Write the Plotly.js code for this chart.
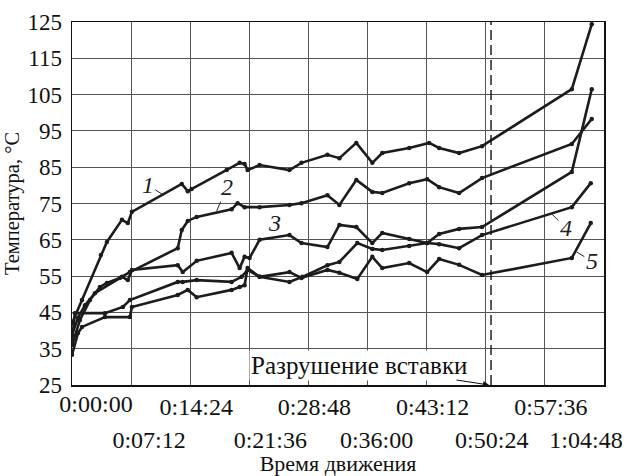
<!DOCTYPE html>
<html><head><meta charset="utf-8">
<script src="https://cdn.plot.ly/plotly-3.0.1.min.js"></script>
<style>html,body{margin:0;padding:0;background:#fff}</style>
</head><body><div id="chart" style="width:624px;height:476px"></div>
<script>
// time in minutes, temperature in °C
const t1=[0,1.22,3.52,4.25,6.08,6.80,7.29,13.37,14.10,14.58,18.84,20.42,21.02,21.39,22.85,26.49,27.95,31.11,32.57,34.63,36.58,37.79,41.07,43.50,44.72,47.15,49.94,60.88,63.31];
const T1=[42,48.4,60.8,64.4,70.5,69.6,72.7,80.4,78.4,79,84.2,86.2,85.9,84.2,85.6,84.2,86.2,88.4,87.5,91.7,86.2,88.9,90.3,91.7,90.3,88.9,90.8,106.5,124.4];
const t2=[0,0.97,2.19,3.40,4.25,5.83,7.05,12.88,13.37,14.10,15.19,19.44,20.17,21.02,22.85,26.49,27.95,31.11,32.57,34.63,36.58,37.79,41.07,43.26,44.72,47.15,49.94,60.88,63.31];
const T2=[36,42.9,48.4,52,53.1,54.5,56.1,62.7,67.7,70.2,71.3,73.4,75.1,74,74,74.6,75.1,77.3,74.6,81.5,78.2,77.9,80.6,81.7,79.5,77.9,82,91.4,98.3];
const t3=[0,0.73,1.58,2.79,6.08,6.80,7.29,12.88,13.49,15.19,19.44,20.42,21.02,21.63,22.85,26.49,27.95,31.11,32.57,34.63,36.58,37.79,41.07,43.26,44.72,47.15,49.94,60.88,63.31];
const T3=[38.8,43.5,47,50.3,54.8,53.9,56.7,58,56.1,59.2,61.4,57.2,60.3,60,65,66.3,64.1,63,69.1,68.5,64.1,66.9,65.2,64.1,66.6,68,68.5,83.7,106.5];
const t4=[0,0.73,1.22,4.01,7.05,7.29,12.88,14.10,15.19,19.44,20.42,21.02,21.39,22.85,26.49,28.07,31.11,32.57,34.75,36.58,37.79,41.07,43.26,44.72,47.15,49.94,60.88,63.19];
const T4=[33.3,39.3,41,43.7,43.7,46.5,49.8,51.2,49.2,51.2,52,52.5,57.2,54.8,53.4,54.8,58,58.9,64.1,62.5,62.2,63.3,64.1,63.8,62.7,66.3,74,80.6];
const t5=[0,0.36,4.01,6.20,7.05,12.88,13.49,15.19,19.44,20.66,21.39,22.85,26.49,27.95,31.11,32.57,34.75,36.58,37.79,41.07,43.26,44.72,47.15,49.94,60.88,63.19];
const T5=[37.4,44.8,44.8,46.5,48.4,53.4,53.4,53.9,53.4,54.8,56.7,54.8,56.1,54.5,56.7,55.9,54.2,60.3,57.2,58.6,56.1,59.7,58.1,55.3,60,69.6];
const seriesNames=["1","2","3","4","5"];
const tickMinutes=[0,7.2,14.4,21.6,28.8,36,43.2,50.4,57.6,64.8];
const tickLabels=["0:00:00","0:07:12","0:14:24","0:21:36","0:28:48","0:36:00","0:43:12","0:50:24","0:57:36","1:04:48"];
const yTicks=[25,35,45,55,65,75,85,95,105,115,125];
const failureTime=51.04;
const failureLabel="Разрушение вставки";
const xTitle="Время движения";
const yTitle="Температура, °C";

const font='Times New Roman, Liberation Serif, serif';
const ts=[t1,t2,t3,t4,t5], Ts=[T1,T2,T3,T4,T5];
const traces=ts.map((t,i)=>({x:t,y:Ts[i],name:seriesNames[i],type:'scatter',mode:'lines+markers',
  line:{color:'#1c1c1c',width:2.6},marker:{color:'#1c1c1c',size:4.5},showlegend:false,hoverinfo:'skip'}));
['x2','x3','x4'].forEach(a=>traces.push({x:[],y:[],xaxis:a,yaxis:'y',type:'scatter',mode:'lines',showlegend:false,hoverinfo:'skip'}));

// staggered tick labels: even on row 1, odd on row 2; first and last on their own axes (shifted inside the figure)
const pad=[0,6,2,7,2,3,2,2,2,0];
const nb='\u00A0';
const padded=tickLabels.map((s,i)=>nb.repeat(pad[i])+s);
const last=tickLabels.length-1;
const evenVals=tickMinutes.filter((v,i)=>i%2===0&&i>0), evenText=padded.filter((v,i)=>i%2===0&&i>0);
const oddVals=tickMinutes.filter((v,i)=>i%2===1&&i<last), oddText=padded.filter((v,i)=>i%2===1&&i<last);

// curve labels: [seriesIndex, time, temp, ax, ay]
const lbl=[[0,11.18,77.3,-16,-10],[1,17.62,72.9,10,-24],[2,25.64,65.9,-8,-14],[3,58.45,72.1,14,14],[4,61.49,61.6,15,9]];
const annotations=lbl.map(a=>({x:a[1],y:a[2],ax:a[3],ay:a[4],text:'<i>'+seriesNames[a[0]]+'</i>',showarrow:true,arrowhead:0,arrowwidth:1,arrowcolor:'#222',standoff:0,font:{family:font,size:24,color:'#222'}}));
annotations.push({x:50.8,y:25,ax:-130,ay:-20,text:failureLabel,showarrow:true,arrowhead:2,arrowsize:1,arrowwidth:1.2,arrowcolor:'#111',standoff:0,font:{family:font,size:25,color:'#111'},bgcolor:'#fff'});

const tf={family:font,size:24,color:'#111'};
const axCommon={range:[0,64.8],zeroline:false,ticks:'',tickangle:0,ticklabeloverflow:'allow',tickfont:tf};
const overlay={overlaying:'x',matches:'x',anchor:'y',side:'bottom',showline:false};
const layout={
  width:624,height:476,margin:{l:72,r:20,t:22,b:91},
  paper_bgcolor:'#fff',plot_bgcolor:'#fff',
  font:{family:font,size:23,color:'#111'},
  xaxis:Object.assign({},axCommon,{tickvals:evenVals,ticktext:evenText,showgrid:true,gridcolor:'#555',gridwidth:1,
    showline:true,linecolor:'#111',linewidth:1.5,mirror:true,
    title:{text:xTitle,font:{family:font,size:22,color:'#111'},standoff:42}}),
  xaxis2:Object.assign({},axCommon,overlay,{tickvals:oddVals,ticktext:oddText,
    showgrid:true,gridcolor:'#555',gridwidth:1,ticklabelstandoff:38}),
  xaxis3:Object.assign({},axCommon,overlay,{tickvals:[tickMinutes[last]],ticktext:[tickLabels[last]],
    showgrid:false,ticklabelstandoff:38,ticklabelshift:-18}),
  xaxis4:Object.assign({},axCommon,overlay,{tickvals:[tickMinutes[0]],ticktext:[tickLabels[0]],
    showgrid:false,ticklabelshift:24,ticklabelstandoff:2}),
  yaxis:{range:[25,125],tickvals:yTicks,showgrid:true,gridcolor:'#555',gridwidth:1,zeroline:false,
    showline:true,linecolor:'#111',linewidth:1.5,mirror:true,ticks:'',ticklabelstandoff:4,
    tickfont:{family:font,size:23,color:'#111'},
    title:{text:yTitle+nb.repeat(4),font:{family:font,size:20.5,color:'#111'},standoff:2}},
  shapes:[{type:'line',xref:'x',yref:'y',x0:failureTime,x1:failureTime,y0:25,y1:125,line:{color:'#111',width:1.4,dash:'10px,5px'}}],
  annotations:annotations
};
Plotly.newPlot('chart',traces,layout,{displayModeBar:false,staticPlot:true});
</script></body></html>
